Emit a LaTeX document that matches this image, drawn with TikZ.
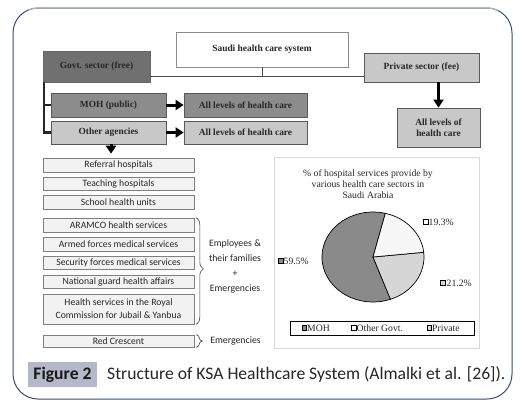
\documentclass[tikz,border=0pt]{standalone}
\usepackage{fontspec}
\setmainfont{Liberation Serif}
\newfontfamily\carl{Carlito}
\usetikzlibrary{arrows.meta,decorations.pathreplacing,calc}
\definecolor{gA}{RGB}{112,112,112}
\definecolor{gB}{RGB}{140,140,140}
\definecolor{gC}{RGB}{200,200,200}
\definecolor{gL}{RGB}{242,242,242}
\definecolor{pMOH}{RGB}{138,138,138}
\definecolor{pPRI}{RGB}{214,214,214}
\definecolor{pOTH}{RGB}{247,247,247}
\definecolor{frameDark}{RGB}{60,75,115}
\definecolor{frameLight}{RGB}{176,180,198}
\definecolor{capbox}{RGB}{180,184,200}
\begin{document}
\begin{tikzpicture}[x=1pt,y=-1pt,
  tbox/.style={rectangle, inner sep=0pt, draw=black!65, line width=0.7pt,
    font=\fontsize{9.4}{11}\selectfont\bfseries, text=black!85, align=center},
  lbox/.style={rectangle, inner sep=0pt, draw=black!50, line width=0.6pt, fill=gL,
    font=\carl\fontsize{9.7}{13}\selectfont, text=black!85, align=center, minimum width=151pt},
  conn/.style={draw=black!70, line width=0.7pt},
  bigarrow/.style={line width=3pt, black, -{Triangle[length=8pt,width=10pt]}},
  bracestyle/.style={draw=black!75, line width=0.6pt, decorate},
  ltext/.style={font=\carl\fontsize{9.8}{15}\selectfont, text=black!85, align=center},
  ptext/.style={font=\fontsize{9.7}{11}\selectfont, text=black!85, align=center, inner sep=0pt},
  sq/.style={rectangle, draw=black, line width=0.6pt, minimum size=4.5pt, inner sep=0pt}
]
\useasboundingbox (0,0) rectangle (522,410);
\fill[white] (0,0) rectangle (522,410);
% frame
\draw[frameDark, line width=1pt, rounded corners=25pt] (13,8) rectangle (512,399);
\draw[frameLight, line width=1.2pt] (28,10.5) .. controls (33,8) and (36,8) .. (38,8) -- (487,8) .. controls (490,8) and (494,8.5) .. (498,10.5);

% top level
\node[tbox, fill=white, draw=black!45, minimum width=172pt, minimum height=35pt] (saudi) at (262,49.5) {Saudi health care system};
\node[tbox, fill=gA, draw=black!60, minimum width=107pt, minimum height=31pt] (govt) at (96.5,66.5) {Govt. sector (free)};
\node[tbox, fill=gC, minimum width=115pt, minimum height=29pt] (priv) at (421.5,67.5) {Private sector (fee)};
\node[tbox, fill=gC, minimum width=83pt, minimum height=39pt] (privall) at (438.5,127.5) {All levels of\\health care};
\node[tbox, fill=gB, minimum width=115pt, minimum height=24pt] (moh) at (108.5,105) {MOH (public)};
\node[tbox, fill=gC, minimum width=115pt, minimum height=23pt] (other) at (108.5,132.5) {Other agencies};
\node[tbox, fill=gB, minimum width=123pt, minimum height=24pt] (mohall) at (245.5,105) {All levels of health care};
\node[tbox, fill=gC, minimum width=123pt, minimum height=23pt] (otherall) at (245.5,132.5) {All levels of health care};

\coordinate (hl) at ([yshift=6pt]govt.south east);
\draw[conn] (hl) -- (hl -| priv.west);
\draw[conn] (saudi.south) -- (saudi.south |- hl);

\coordinate (lb) at ([xshift=1.5pt]govt.south west);
\draw[line width=2.2pt, black!85] (lb) |- (other.west);
\draw[line width=2.2pt, black!85] (lb |- moh.west) -- (moh.west);

\draw[bigarrow] (moh.east) -- (mohall.west);
\draw[bigarrow] (other.east) -- (otherall.west);
\draw[bigarrow] (privall.north |- priv.south) -- (privall.north);

% list
\node[lbox, minimum height=14pt] (ref) at (118.5,165) {Referral hospitals};
\node[lbox, minimum height=13pt] (teach) at (118.5,183.5) {Teaching hospitals};
\node[lbox, minimum height=14pt] (school) at (118.5,202) {School health units};
\node[lbox, minimum height=14pt] (aramco) at (118.5,225) {ARAMCO health services};
\node[lbox, minimum height=14pt] (armed) at (118.5,244) {Armed forces medical services};
\node[lbox, minimum height=13pt] (security) at (118.5,262.5) {Security forces medical services};
\node[lbox, minimum height=13pt] (national) at (118.5,281.5) {National guard health affairs};
\node[lbox, minimum height=30pt] (royal) at (118.5,309) {Health services in the Royal\\Commission for Jubail \& Yanbua};
\node[lbox, minimum height=12pt] (red) at (118.5,341) {Red Crescent};

\draw[bigarrow, shorten >=4pt] ([xshift=2.5pt]other.south) -- ([xshift=2.5pt]other.south |- ref.north);

\draw[bracestyle, decoration={brace, amplitude=7pt, aspect=0.48}] ([xshift=2pt]aramco.north east) -- ([xshift=2pt]royal.south east);
\draw[bracestyle, decoration={brace, amplitude=6pt}] ([xshift=2pt]red.north east) -- ([xshift=2pt]red.south east);
\node[ltext] (emp) at (235,266.5) {Employees \&\\their families\\+\\Emergencies};
\node[ltext] (emerg) at (235.5,341) {Emergencies};

% pie chart panel
\draw[black!15, line width=0.7pt] (274,157) rectangle (479,348);
\node[ptext] (ptitle) at (368,184) {\% of hospital services provide by\\various health care sectors in\\Saudi Arabia};
\coordinate (pc) at (373,257);
\filldraw[fill=pMOH, draw=black, line width=0.7pt] (pc) -- ++(76:51pt and 45pt) arc[start angle=76, end angle=290, x radius=51pt, y radius=45pt] -- cycle;
\filldraw[fill=pPRI, draw=black, line width=0.7pt] (pc) -- ++(-70:51pt and 45pt) arc[start angle=-70, end angle=6, x radius=51pt, y radius=45pt] -- cycle;
\filldraw[fill=pOTH, draw=black, line width=0.7pt] (pc) -- ++(6:51pt and 45pt) arc[start angle=6, end angle=76, x radius=51pt, y radius=45pt] -- cycle;

\node[sq, fill=white] (s1) at (426,222) {};
\node[ptext, anchor=west] (l1) at (428.5,222) {19.3\%};
\node[sq, fill=pPRI] (s2) at (443,283) {};
\node[ptext, anchor=west] (l2) at (446.5,283) {21.2\%};
\node[sq, fill=pMOH] (s3) at (281,261) {};
\node[ptext, anchor=west] (l3) at (283.5,261) {59.5\%};

\draw[black, line width=1pt] (290,321) rectangle (474,335);
\node[sq, fill=pMOH] (ls1) at (304.5,328) {};
\node[ptext, anchor=west] (ll1) at (307,328) {MOH};
\node[sq, fill=white] (ls2) at (354,328) {};
\node[ptext, anchor=west] (ll2) at (356.5,328) {Other Govt.};
\node[sq, fill=pPRI] (ls3) at (429.5,328) {};
\node[ptext, anchor=west] (ll3) at (432,328) {Private};

% caption
\node[rectangle, fill=capbox, minimum width=69pt, minimum height=25pt, inner sep=0pt,
  font=\carl\fontsize{17.6}{20}\selectfont\bfseries, text=black!90] (figlab) at (62.5,374.5) {Figure 2};
\node[anchor=west, inner sep=0pt, font=\carl\fontsize{17.6}{20}\selectfont, text=black!85] (cap) at (107,374.5) {Structure of KSA Healthcare System (Almalki et al. [26]).};
\end{tikzpicture}
\end{document}
